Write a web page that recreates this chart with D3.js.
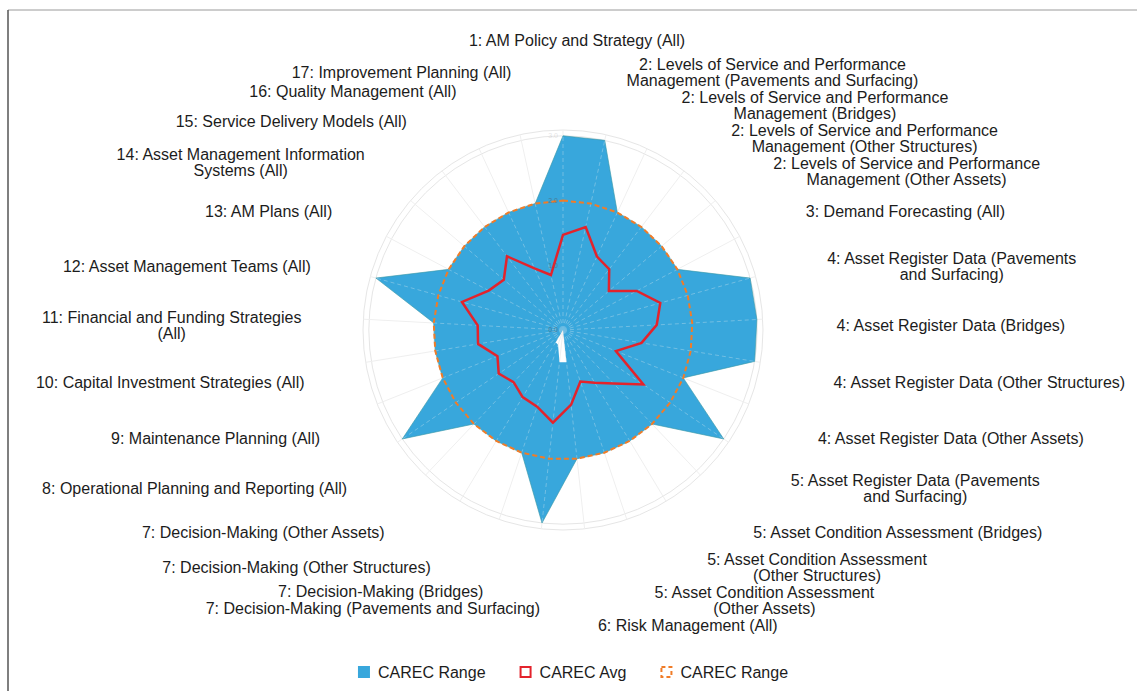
<!DOCTYPE html>
<html>
<head>
<meta charset="utf-8">
<script src="https://cdn.jsdelivr.net/npm/d3@7"></script>
<style>
  body { margin: 0; background: #fff; }
  svg { display: block; font-family: "Liberation Sans", Arial, sans-serif; }
</style>
</head>
<body>
<div id="chart"></div>
<script>
// axis labels, one entry per spoke (clockwise from the top), line breaks as in the source chart
var categories = [
  ["1: AM Policy and Strategy (All)"],
  ["2: Levels of Service and Performance", "Management (Pavements and Surfacing)"],
  ["2: Levels of Service and Performance", "Management (Bridges)"],
  ["2: Levels of Service and Performance", "Management (Other Structures)"],
  ["2: Levels of Service and Performance", "Management (Other Assets)"],
  ["3: Demand Forecasting (All)"],
  ["4: Asset Register Data (Pavements", "and Surfacing)"],
  ["4: Asset Register Data (Bridges)"],
  ["4: Asset Register Data (Other Structures)"],
  ["4: Asset Register Data (Other Assets)"],
  ["5: Asset Register Data (Pavements", "and Surfacing)"],
  ["5: Asset Condition Assessment (Bridges)"],
  ["5: Asset Condition Assessment", "(Other Structures)"],
  ["5: Asset Condition Assessment", "(Other Assets)"],
  ["6: Risk Management (All)"],
  ["7: Decision-Making (Pavements and Surfacing)"],
  ["7: Decision-Making (Bridges)"],
  ["7: Decision-Making (Other Structures)"],
  ["7: Decision-Making (Other Assets)"],
  ["8: Operational Planning and Reporting (All)"],
  ["9: Maintenance Planning (All)"],
  ["10: Capital Investment Strategies (All)"],
  ["11: Financial and Funding Strategies", "(All)"],
  ["12: Asset Management Teams (All)"],
  ["13: AM Plans (All)"],
  ["14: Asset Management Information", "Systems (All)"],
  ["15: Service Delivery Models (All)"],
  ["16: Quality Management (All)"],
  ["17: Improvement Planning (All)"]
];

var rangeMax = [3, 3, 2, 2, 2, 2, 3, 3, 3, 2, 3, 2, 2, 2, 2, 3, 2, 2, 2, 3, 2, 2, 2, 3, 2, 2, 2, 2, 2];
var rangeMin = [0, 0, 0, 0, 0, 0, 0, 0, 0, 0, 0, 0, 0, 0, 0.5, 0.5, 0.24, 0.22, 0, 0, 0.52, 0, 0, 0, 0, 0, 0, 0, 0];
var carecAvg = [1.47, 1.63, 1.25, 1.18, 0.93, 1.29, 1.56, 1.45, 1.23, 0.88, 1.50, 1.14, 0.95, 0.84, 1.16,
                1.44, 1.25, 1.21, 1.11, 1.20, 1.09, 1.33, 1.32, 1.62, 1.30, 1.20, 1.43, 1.05, 0.87];
var carecTarget = [2, 2, 2, 2, 2, 2, 2, 2, 2, 2, 2, 2, 2, 2, 2, 2, 2, 2, 2, 2, 2, 2, 2, 2, 2, 2, 2, 2, 2];
var radialTicks = [0, 1, 2, 3];
var seriesNames = ["CAREC Range", "CAREC Avg", "CAREC Range"];

var W = 1137, H = 691;
var cx = 563, cy = 330;
var outerR = 200;
var fontSize = 16, lineH = 16;
var blue = '#38a7dc', red = '#e3232c', orange = '#f07c28';

var svg = d3.select('#chart').append('svg')
            .attr('width', W)
            .attr('height', H);

// frame
svg.append('line').attr('x1', 8).attr('y1', 10).attr('x2', W).attr('y2', 10)
   .attr('stroke', '#9a9a9a').attr('stroke-width', 1);
svg.append('line').attr('x1', 8).attr('y1', 10).attr('x2', 8).attr('y2', H)
   .attr('stroke', '#555').attr('stroke-width', 1.5);

var n = categories.length;
var angle = d3.scaleLinear().domain([0, n]).range([0, 2 * Math.PI]);
var r = d3.scaleLinear().domain([0, 3.09]).range([0, outerR]);

var g = svg.append('g').attr('transform', 'translate(' + cx + ',' + cy + ')');

function radialPath(values) {
  return d3.lineRadial()
           .angle(function(d, i) { return angle(i); })
           .radius(function(d) { return r(d); })
           .curve(d3.curveLinearClosed)(values);
}

// faint grid in the white part
var grid = g.append('g');
grid.selectAll('circle.ring')
    .data(radialTicks.slice(1).concat([3.09]))
    .enter().append('circle')
    .attr('class', 'ring')
    .attr('r', function(d) { return r(d); })
    .attr('fill', 'none')
    .attr('stroke', '#e6e6e6')
    .attr('stroke-width', 1);
grid.selectAll('line')
    .data(categories)
    .enter().append('line')
    .attr('x1', 0).attr('y1', 0)
    .attr('x2', function(d, i) { return outerR * Math.sin(angle(i)); })
    .attr('y2', function(d, i) { return -outerR * Math.cos(angle(i)); })
    .attr('stroke', '#efefef')
    .attr('stroke-width', 1);

// range band (max polygon with the min polygon cut out)
g.append('path')
 .attr('d', radialPath(rangeMax) + radialPath(rangeMin))
 .attr('fill', blue)
 .attr('fill-rule', 'evenodd');
g.append('path')
 .attr('d', radialPath(rangeMax))
 .attr('fill', 'none')
 .attr('stroke', '#3b98a8')
 .attr('stroke-width', 0.8)
 .attr('stroke-opacity', 0.8);

// spokes show through the fill as light dashes
g.append('g').attr('opacity', 0.3)
 .selectAll('line')
 .data(categories)
 .enter().append('line')
 .attr('x1', 0).attr('y1', 0)
 .attr('x2', function(d, i) { return r(rangeMax[i]) * Math.sin(angle(i)); })
 .attr('y2', function(d, i) { return -r(rangeMax[i]) * Math.cos(angle(i)); })
 .attr('stroke', '#f4f4f4')
 .attr('stroke-width', 1)
 .attr('stroke-dasharray', '4,3');

// dashed target ring
g.append('path')
 .attr('d', radialPath(carecTarget))
 .attr('fill', 'none')
 .attr('stroke', orange)
 .attr('stroke-width', 2)
 .attr('stroke-dasharray', '5,3');

// average
g.append('path')
 .attr('d', radialPath(carecAvg))
 .attr('fill', 'none')
 .attr('stroke', red)
 .attr('stroke-width', 2.5)
 .attr('stroke-linejoin', 'miter');

// radial tick labels
g.selectAll('text.tick')
 .data(radialTicks)
 .enter().append('text')
 .attr('class', 'tick')
 .attr('x', -5)
 .attr('y', function(d) { return -r(d); })
 .attr('dy', '0.35em')
 .attr('text-anchor', 'end')
 .attr('font-size', 7)
 .attr('fill', '#555')
 .attr('opacity', function(d) { return d === 3 ? 0.15 : 0.5; })
 .text(function(d) { return d.toFixed(1); });

// ---- spoke labels ----
var labelRx = 268, lcx = cx + 6, lcy = cy + 10;
var labelLayer = svg.append('g');

var items = categories.map(function(lines, i) {
  var a = angle(i), s = Math.sin(a), c = Math.cos(a);
  var ry = c > 0 ? 274 : 265;
  var t = labelLayer.append('text')
                    .attr('font-size', fontSize)
                    .attr('fill', '#1c1c1c');
  var widths = lines.map(function(l) {
    var ts = t.append('tspan').text(l);
    return ts.node().getComputedTextLength();
  });
  var w = d3.max(widths);
  var x = lcx + labelRx * s;
  var h = lines.length * lineH;
  var left, top;
  if (Math.abs(s) < 0.05) {
    // label on the vertical axis sits clear above the ring
    left = x + 8 - w / 2;
    top = lcy - ry * c - h - lineH * 1.1;
  } else {
    left = s > 0 ? x : x - w;
    top = lcy - ry * c - h / 2;
  }
  return { t: t, lines: lines, left: left, right: left + w, w: w, h: h, top: top };
});

// place labels top to bottom, sliding each one down below any label it would hit
var placed = [];
items.slice().sort(function(a, b) { return (a.top + a.h / 2) - (b.top + b.h / 2); })
  .forEach(function(d) {
    var hit = true;
    while (hit) {
      hit = false;
      placed.forEach(function(p) {
        if (d.left < p.right + 2 && p.left < d.right + 2 &&
            d.top < p.top + p.h + 1 && p.top < d.top + d.h + 1) {
          d.top = p.top + p.h + 1;
          hit = true;
        }
      });
    }
    placed.push(d);
  });

items.forEach(function(d) {
  d.t.selectAll('tspan')
     .attr('x', d.left + d.w / 2)
     .attr('y', function(l, k) { return d.top + lineH * (k + 0.5); })
     .attr('text-anchor', 'middle')
     .attr('dominant-baseline', 'central');
});

// ---- legend ----
var legend = svg.append('g');
var legendY = 672, box = 12;
var lx = 0;
var legendItems = seriesNames.map(function(name, i) {
  var gi = legend.append('g');
  if (i === 0) {
    gi.append('rect').attr('x', 0).attr('y', -box / 2).attr('width', box).attr('height', box)
      .attr('fill', blue);
  } else if (i === 1) {
    gi.append('rect').attr('x', 1).attr('y', -box / 2 + 1).attr('width', box - 2).attr('height', box - 2)
      .attr('fill', '#fff').attr('stroke', red).attr('stroke-width', 2);
  } else {
    gi.append('rect').attr('x', 1).attr('y', -box / 2 + 1).attr('width', box - 2).attr('height', box - 2)
      .attr('fill', '#fff').attr('stroke', orange).attr('stroke-width', 2)
      .attr('stroke-dasharray', '4,3');
  }
  var t = gi.append('text')
            .attr('x', box + 8)
            .attr('y', 0)
            .attr('dominant-baseline', 'central')
            .attr('font-size', fontSize)
            .attr('fill', '#1c1c1c')
            .text(name);
  var w = box + 8 + t.node().getComputedTextLength();
  var res = { g: gi, x: lx };
  lx += w + 34;
  return res;
});
var total = lx - 34;
var lstart = 573 - total / 2;
legendItems.forEach(function(d) {
  d.g.attr('transform', 'translate(' + (lstart + d.x) + ',' + legendY + ')');
});
</script>
</body>
</html>
